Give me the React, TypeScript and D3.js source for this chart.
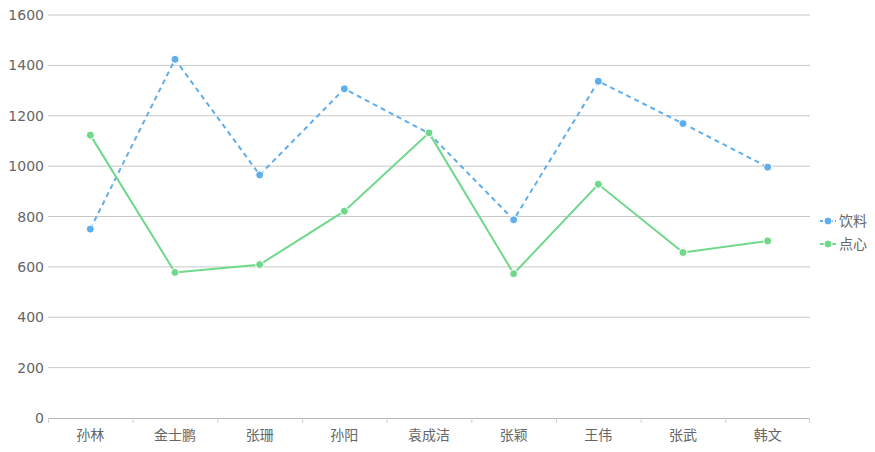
import React from "react";
import * as d3 from "d3";

const categories = ["孙林", "金士鹏", "张珊", "孙阳", "袁成洁", "张颖", "王伟", "张武", "韩文"];
const drinkValues = [750, 1424, 965, 1307, 1130, 787, 1337, 1169, 996];
const snackValues = [1123, 578, 609, 821, 1132, 573, 928, 657, 703];
const yTicks = [0, 200, 400, 600, 800, 1000, 1200, 1400, 1600];
const seriesNames = ["饮料", "点心"];

const W = 875, H = 452;
const left = 48, right = 810, top = 15, bottom = 418;
const BLUE = "#5eaeed";
const GREEN = "#6fd88a";
const FONT = "'Noto Sans CJK SC', 'Noto Sans', sans-serif";

export default function App() {
  const x = d3.scaleBand<string>().domain(categories).range([left, right]);
  const y = d3.scaleLinear().domain([0, 1600]).range([bottom, top]);
  const cx = (c: string) => (x(c) as number) + x.bandwidth() / 2;
  const line = d3.line<number>().x((_, i) => cx(categories[i])).y((d) => y(d));

  const series = [
    { name: seriesNames[0], values: drinkValues, color: BLUE, dash: "5,4" },
    { name: seriesNames[1], values: snackValues, color: GREEN, dash: undefined },
  ];

  return (
    <svg width={W} height={H} style={{ position: "absolute", left: 0, top: 0 }} fontFamily={FONT}>
      {yTicks.map((t) => (
        <g key={t}>
          {t !== 0 && <line x1={left} x2={right} y1={y(t)} y2={y(t)} stroke="#c8c8c8" strokeWidth={1} />}
          <text x={44} y={y(t)} dy="0.36em" textAnchor="end" fontSize={14} fill="#666" fontFamily="'DejaVu Sans', sans-serif">{t}</text>
        </g>
      ))}
      <line x1={left} x2={right} y1={bottom + 0.5} y2={bottom + 0.5} stroke="#b8b8b8" />
      {categories.map((c, i) => (
        <line key={"tk" + i} x1={(x(c) as number) + 0.5} x2={(x(c) as number) + 0.5} y1={bottom} y2={bottom + 5} stroke="#d0d0d0" />
      ))}
      <line x1={right - 0.5} x2={right - 0.5} y1={bottom} y2={bottom + 5} stroke="#d0d0d0" />
      {categories.map((c) => (
        <text key={c} x={cx(c)} y={440} textAnchor="middle" fontSize={14} fill="#666">{c}</text>
      ))}
      {series.map((s) => (
        <g key={s.name}>
          <path d={line(s.values) || ""} fill="none" stroke={s.color} strokeWidth={2} strokeDasharray={s.dash} />
          {s.values.map((v, i) => (
            <circle key={i} cx={cx(categories[i])} cy={y(v)} r={4} fill={s.color} stroke="#fff" strokeWidth={1} />
          ))}
        </g>
      ))}
      {series.map((s, i) => {
        const ly = 221 + i * 23;
        return (
          <g key={"lg" + i}>
            <line x1={820} x2={836} y1={ly} y2={ly} stroke={s.color} strokeWidth={2} strokeDasharray={s.dash ? "3,2" : undefined} />
            <circle cx={828} cy={ly} r={4} fill={s.color} stroke="#fff" strokeWidth={1} />
            <text x={839} y={ly} dy="0.35em" fontSize={14} fill="#666">{s.name}</text>
          </g>
        );
      })}
    </svg>
  );
}
